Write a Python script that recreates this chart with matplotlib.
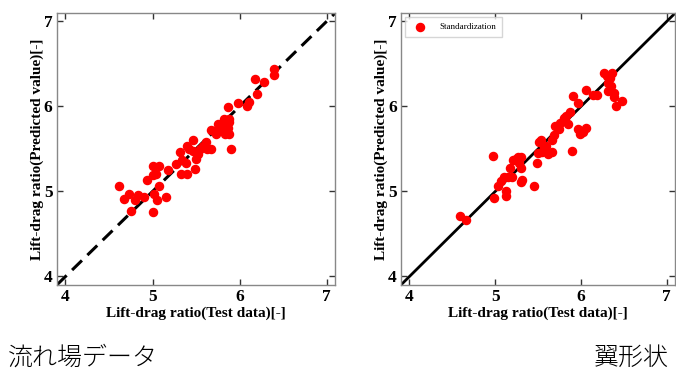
import numpy as np
import matplotlib.pyplot as plt

# 流れ場データ (left panel)
flow_test = [4.62, 4.67, 4.73, 4.75, 4.80, 4.83, 4.90, 4.94, 5.00, 5.00, 5.02, 5.01,
             5.04, 5.05, 5.08, 5.08, 5.15, 5.18, 5.27, 5.31, 5.33, 5.34, 5.38, 5.40,
             5.40, 5.42, 5.46, 5.47, 5.49, 5.50, 5.52, 5.54, 5.58, 5.62, 5.63, 5.67,
             5.67, 5.71, 5.73, 5.75, 5.77, 5.82, 5.83, 5.85, 5.87, 5.88, 5.87, 5.88,
             5.90, 5.88, 5.98, 6.08, 6.11, 6.18, 6.20, 6.28, 6.40, 6.40]
flow_pred = [5.07, 4.91, 4.97, 4.77, 4.90, 4.96, 4.94, 5.13, 5.30, 5.19, 4.97, 4.76,
             5.20, 4.90, 5.30, 5.06, 4.94, 5.25, 5.32, 5.47, 5.21, 5.37, 5.34, 5.21,
             5.53, 5.50, 5.61, 5.48, 5.27, 5.38, 5.44, 5.50, 5.54, 5.58, 5.50, 5.50,
             5.72, 5.71, 5.68, 5.79, 5.75, 5.85, 5.68, 5.79, 5.75, 5.68, 5.99, 5.85,
             5.50, 5.82, 6.04, 6.01, 6.05, 6.32, 6.15, 6.29, 6.37, 6.44]

# 翼形状 (right panel)
wing_test = [4.59, 4.66, 4.97, 4.99, 5.03, 5.07, 5.10, 5.12, 5.13, 5.15, 5.17, 5.20,
             5.21, 5.24, 5.26, 5.28, 5.30, 5.30, 5.30, 5.31, 5.45, 5.49, 5.50, 5.51,
             5.53, 5.55, 5.57, 5.59, 5.62, 5.66, 5.66, 5.68, 5.70, 5.74, 5.76, 5.80,
             5.83, 5.85, 5.87, 5.89, 5.91, 5.96, 5.97, 5.99, 6.02, 6.06, 6.06, 6.14,
             6.19, 6.27, 6.30, 6.32, 6.32, 6.35, 6.36, 6.38, 6.39, 6.41, 6.48, 6.34]
wing_pred = [4.71, 4.66, 5.42, 4.92, 5.07, 5.12, 5.17, 5.01, 4.95, 5.17, 5.28, 5.17,
             5.37, 5.38, 5.41, 5.34, 5.40, 5.11, 5.28, 5.13, 5.07, 5.34, 5.45, 5.58,
             5.60, 5.46, 5.52, 5.54, 5.44, 5.60, 5.46, 5.66, 5.77, 5.73, 5.81, 5.87,
             5.89, 5.79, 5.94, 5.48, 6.12, 6.04, 5.73, 5.68, 5.70, 5.75, 6.19, 6.14,
             6.13, 6.39, 6.36, 6.27, 6.18, 6.24, 6.39, 6.11, 6.16, 6.01, 6.06, 6.34]

ticks = [4, 5, 6, 7]
lims = (3.9, 7.1)

plt.rcParams['font.family'] = ['Liberation Serif', 'DejaVu Serif']

fig = plt.figure(figsize=(6.76, 3.8), dpi=100)
ax1 = fig.add_axes([0.084, 0.25, 0.412, 0.716])
ax2 = fig.add_axes([0.593, 0.25, 0.406, 0.716])


def style_axis(ax):
    ax.set_xlim(lims)
    ax.set_ylim(lims)
    ax.set_xticks(ticks)
    ax.set_yticks(ticks)
    ax.tick_params(direction='in', top=True, right=True, length=4, width=1,
                   labelsize=12.5, pad=3, color='#333333')
    for lab in ax.get_xticklabels() + ax.get_yticklabels():
        lab.set_fontweight('bold')
    for sp in ax.spines.values():
        sp.set_color('#888888')
        sp.set_linewidth(1)
    ax.set_xlabel('Lift-drag ratio(Test data)[-]', fontsize=11, fontweight='bold',
                  labelpad=1)
    ax.set_ylabel('Lift-drag ratio(Predicted value)[-]', fontsize=11,
                  fontweight='bold', labelpad=0)


ax1.plot(lims, lims, 'k--', linewidth=2.2, dashes=(4.5, 2.5))
ax1.scatter(flow_test, flow_pred, s=34, color='red', zorder=3)
style_axis(ax1)

ax2.plot(lims, lims, 'k-', linewidth=2.0)
ax2.scatter(wing_test, wing_pred, s=34, color='red', zorder=3,
            label='Standardization')
style_axis(ax2)
ax2.legend(loc='upper left', fontsize=6.5, frameon=True, edgecolor='#cccccc',
           fancybox=False, borderpad=0.6, handletextpad=1.2,
           bbox_to_anchor=(0.0, 1.0))

cjk = ['Noto Sans CJK JP', 'DejaVu Sans']
fig.text(0.012, 0.04, '流れ場データ', fontsize=18, family=cjk, fontweight='light')
fig.text(0.99, 0.04, '翼形状', fontsize=18, family=cjk, fontweight='light',
         ha='right')

fig.savefig('out.png', dpi=100)
